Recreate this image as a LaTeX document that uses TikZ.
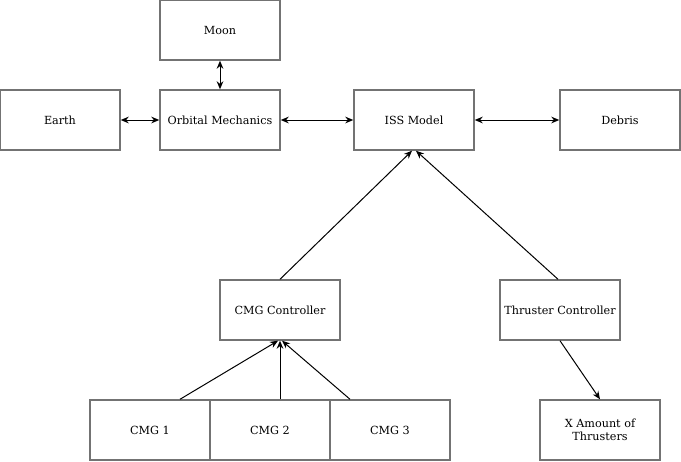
\documentclass[tikz,border=0pt]{standalone}
\usepackage{fontspec}
\setmainfont{DejaVu Serif}
\usetikzlibrary{arrows.meta}
\tikzset{
  block/.style={rectangle, draw=gray!90!black, line width=1.1pt, fill=white, minimum width=90pt, minimum height=45pt, inner sep=2pt, align=center, font=\fontsize{8.4}{10}\selectfont},
  link/.style={line width=0.75pt, -{Stealth[length=6pt,width=5pt]}},
  duplex/.style={line width=0.75pt, {Stealth[length=6pt,width=5pt]}-{Stealth[length=6pt,width=5pt]}}
}
\begin{document}
\begin{tikzpicture}[x=0.75pt, y=-0.75pt]
  \useasboundingbox (0,0) rectangle (681,461);
  % environment
  \node[block] (moon) at (220,30) {Moon};
  \node[block] (earth) at (60,120) {Earth};
  \node[block] (orbmech) at (220,120) {Orbital Mechanics};
  \node[block] (iss) at (414,120) {ISS Model};
  \node[block] (debris) at (620,120) {Debris};

  % controllers
  \node[block] (cmgctrl) at (280,310) {CMG Controller};
  \node[block] (thrctrl) at (560,310) {Thruster Controller};

  % actuators
  \node[block] (cmgone) at (150,430) {CMG 1};
  \node[block] (cmgtwo) at (270,430) {CMG 2};
  \node[block] (cmgthree) at (390,430) {CMG 3};
  \node[block] (thrusters) at (600,430) {X Amount of\\Thrusters};

  \draw[duplex] (moon) -- (orbmech);
  \draw[duplex] (earth) -- (orbmech);
  \draw[duplex] (orbmech) -- (iss);
  \draw[duplex] (iss) -- (debris);

  \draw[link] (cmgctrl.north) -- ([xshift=-1.5pt]iss.south);
  \draw[link] ([xshift=-1.5pt]thrctrl.north) -- ([xshift=1.5pt]iss.south);

  \draw[link] ([xshift=22.5pt]cmgone.north) -- ([xshift=-1.5pt]cmgctrl.south);
  \draw[link] ([xshift=7.5pt]cmgtwo.north) -- (cmgctrl.south);
  \draw[link] ([xshift=-30pt]cmgthree.north) -- ([xshift=1.5pt]cmgctrl.south);
  \draw[link] (thrctrl.south) -- (thrusters.north);
\end{tikzpicture}
\end{document}
